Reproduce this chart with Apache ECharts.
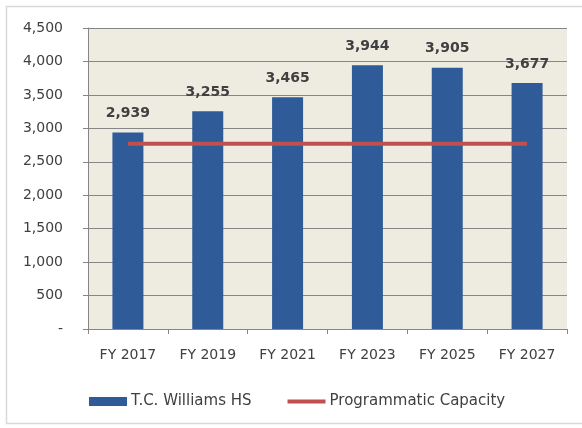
<!DOCTYPE html>
<html>
<head>
<meta charset="utf-8">
<script src="https://cdn.jsdelivr.net/npm/echarts@6/dist/echarts.min.js"></script>
<style>
html,body{margin:0;padding:0;background:#fff;}
#c{width:582px;height:428px;}
</style>
</head>
<body>
<div id="c"></div>
<script>
var categories = ['FY 2017','FY 2019','FY 2021','FY 2023','FY 2025','FY 2027'];
var enrollment = [2939, 3255, 3465, 3944, 3905, 3677];
var capacity = [2770, 2770, 2770, 2770, 2770, 2770];
var yMin = 0, yMax = 4500, yStep = 500;

var FONT = 'DejaVu Sans';
var chart = echarts.init(document.getElementById('c'), null, {renderer: 'canvas'});
chart.setOption({
  animation: false,
  backgroundColor: '#ffffff',
  textStyle: {fontFamily: FONT},
  graphic: [{
    type: 'polyline', z: -10, silent: true,
    shape: {points: [[700, 6.5], [6.5, 6.5], [6.5, 423.5], [700, 423.5]]},
    style: {fill: 'none', stroke: '#D9D9D9', lineWidth: 1.5}
  }],
  grid: {left: 88, right: 15, top: 28, bottom: 99, show: true, backgroundColor: '#EEECE1', borderWidth: 0},
  legend: {
    bottom: 19, left: 89, padding: 0,
    itemGap: 36,
    itemWidth: 38, itemHeight: 9,
    textStyle: {fontFamily: FONT, fontSize: 15, color: '#404040', padding: [0,0,0,-1]},
    data: [
      {name: 'T.C. Williams HS', icon: 'rect'},
      {name: 'Programmatic Capacity', icon: 'path://M0,0 L40,0 L40,4 L0,4 Z'}
    ]
  },
  xAxis: {
    type: 'category', data: categories,
    axisLine: {show: true, lineStyle: {color: '#868686', width: 1}},
    axisTick: {show: true, length: 5, lineStyle: {color: '#868686'}},
    axisLabel: {fontFamily: FONT, fontSize: 14, color: '#404040', margin: 19}
  },
  yAxis: {
    type: 'value', min: yMin, max: yMax, interval: yStep,
    axisLine: {show: true, lineStyle: {color: '#868686', width: 1}},
    axisTick: {show: true, length: 5, lineStyle: {color: '#868686'}},
    splitLine: {show: true, lineStyle: {color: '#868686', width: 1}},
    axisLabel: {
      fontFamily: FONT, fontSize: 14, color: '#404040', margin: 25,
      formatter: function(v){ return v === 0 ? '-' : v.toLocaleString('en-US'); }
    }
  },
  series: [
    {
      name: 'T.C. Williams HS', type: 'bar', data: enrollment,
      barWidth: 31,
      itemStyle: {color: '#2F5B98'},
      label: {
        show: true, position: 'top', distance: 12,
        fontFamily: FONT, fontSize: 14, fontWeight: 'bold', color: '#404040',
        formatter: function(p){ return p.value.toLocaleString('en-US'); }
      }
    },
    {
      name: 'Programmatic Capacity', type: 'line', data: capacity,
      showSymbol: false, symbol: 'none',
      lineStyle: {color: '#C0504D', width: 4},
      itemStyle: {color: '#C0504D'},
      z: 5
    }
  ]
});
</script>
</body>
</html>
